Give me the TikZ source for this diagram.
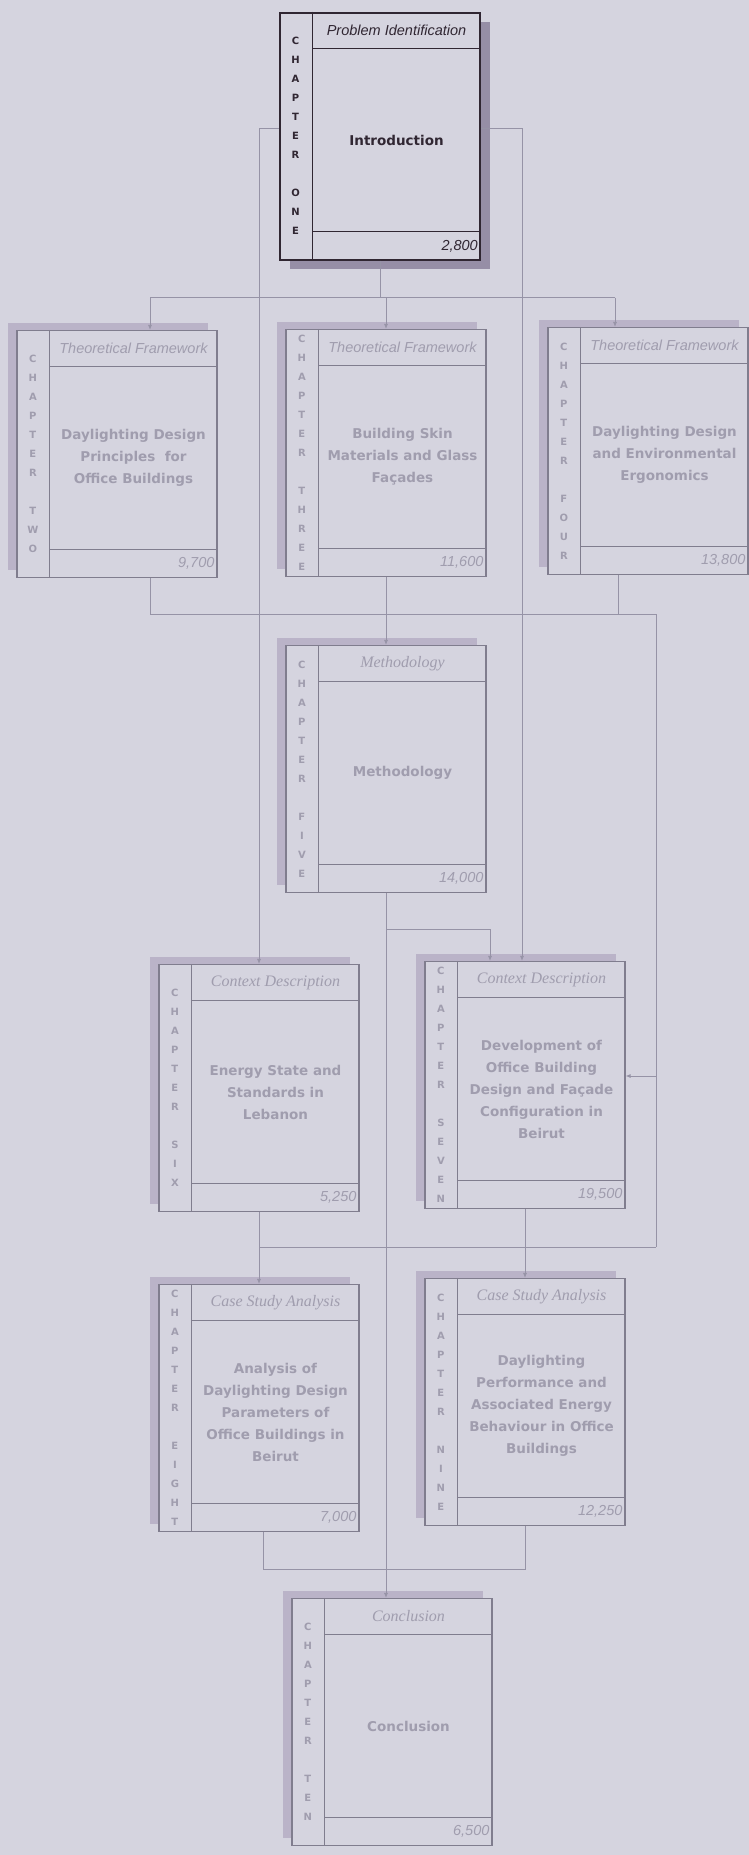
\documentclass[tikz,border=0pt]{standalone}
\usepackage{fontspec}
\setmainfont{Liberation Serif}
\setsansfont{DejaVu Sans}
\newfontfamily\headsans{Liberation Sans}
\newfontfamily\headserif{Liberation Serif}
\usetikzlibrary{arrows.meta,calc}

\definecolor{paper}{RGB}{213,212,223}
\definecolor{cshadow}{RGB}{186,179,200}
\definecolor{cshadowdark}{RGB}{150,142,166}
\definecolor{ink}{RGB}{48,38,50}
\definecolor{rule}{RGB}{128,125,142}
\definecolor{faint}{RGB}{160,157,174}
\definecolor{wire}{RGB}{150,147,166}

\newcommand{\chapspine}[1]{C\\H\\A\\P\\T\\E\\R\\[19pt]#1}

\tikzset{
  chapbox/.style={draw=rule, line width=1.2pt, fill=paper, minimum width=200pt, minimum height=247pt, inner sep=0pt},
  keybox/.style={chapbox, draw=ink, line width=2pt},
  divider/.style={draw=rule, line width=1pt},
  spinetext/.style={font=\sffamily\bfseries\fontsize{10}{19}\selectfont, align=center, text=faint, inner sep=0pt},
  titletext/.style={font=\sffamily\bfseries\fontsize{13.5}{22}\selectfont, align=center, text=faint},
  hdsans/.style={font=\headsans\itshape\fontsize{14.5}{17}\selectfont, text=faint, inner sep=0pt},
  hdserif/.style={font=\headserif\itshape\fontsize{16}{19}\selectfont, text=faint, inner sep=0pt},
  numtext/.style={font=\headsans\itshape\fontsize{14.5}{17}\selectfont, text=faint, anchor=east, inner sep=0pt},
  link/.style={draw=wire, line width=0.8pt},
  flow/.style={link, -{Latex[length=5pt,width=4pt]}},
}

% name, x, y, header style, header, title, words, spine
\newcommand{\chapbox}[8]{%
  \fill[cshadow] ($(#2,#3)+(-109,-131.5)$) rectangle ++(200,247);
  \node[chapbox] (#1) at (#2,#3) {};
  \draw[divider] ([xshift=33]#1.north west) -- ([xshift=33]#1.south west);
  \draw[divider] ([xshift=33,yshift=-37]#1.north west) -- ([yshift=-37]#1.north east);
  \draw[divider] ([xshift=33,yshift=29]#1.south west) -- ([yshift=29]#1.south east);
  \node[#4] at ($(#1.north)+(16.5,18.5)$) {#5};
  \node[titletext] at ($(#1.center)+(16.5,4)$) {#6};
  \node[numtext] at ($(#1.south east)+(-3,-14.5)$) {#7};
  \node[spinetext] at ($(#1.west)+(16.5,0)$) {\chapspine{#8}};
}

\begin{document}
\begin{tikzpicture}[x=1pt, y=-1pt]
  \fill[paper] (0,0) rectangle (749,1855);
  \useasboundingbox (0,0) rectangle (749,1855);

  % chapter one
  \fill[cshadowdark] (290,21.5) rectangle ++(200,247);
  \node[keybox] (one) at (380,136) {};
  \draw[divider, draw=ink] ([xshift=33]one.north west) -- ([xshift=33]one.south west);
  \draw[divider, draw=ink] ([xshift=33,yshift=-37]one.north west) -- ([yshift=-37]one.north east);
  \draw[divider, draw=ink] ([xshift=33,yshift=29]one.south west) -- ([yshift=29]one.south east);
  \node[hdsans, text=ink] at ($(one.north)+(16.5,18.5)$) {Problem Identification};
  \node[titletext, text=ink] at ($(one.center)+(16.5,4)$) {Introduction};
  \node[numtext, text=ink] at ($(one.south east)+(-3,-14.5)$) {2,800};
  \node[spinetext, text=ink] at ($(one.west)+(16.5,0)$) {\chapspine{O\\N\\E}};

  % other chapters
  \chapbox{two}{117}{454}{hdsans}{Theoretical Framework}{Daylighting Design\\Principles \ for\\Office Buildings}{9,700}{T\\W\\O}
  \chapbox{three}{386}{453}{hdsans}{Theoretical Framework}{Building Skin\\Materials and Glass\\Façades}{11,600}{T\\H\\R\\E\\E}
  \chapbox{four}{648}{451}{hdsans}{Theoretical Framework}{Daylighting Design\\and Environmental\\Ergonomics}{13,800}{F\\O\\U\\R}
  \chapbox{five}{386}{769}{hdserif}{Methodology}{Methodology}{14,000}{F\\I\\V\\E}
  \chapbox{six}{259}{1088}{hdserif}{Context Description}{Energy State and\\Standards in\\Lebanon}{5,250}{S\\I\\X}
  \chapbox{seven}{525}{1085}{hdserif}{Context Description}{Development of\\Office Building\\Design and Façade\\Configuration in\\Beirut}{19,500}{S\\E\\V\\E\\N}
  \chapbox{eight}{259}{1408}{hdserif}{Case Study Analysis}{Analysis of\\Daylighting Design\\Parameters of\\Office Buildings in\\Beirut}{7,000}{E\\I\\G\\H\\T}
  \chapbox{nine}{525}{1402}{hdserif}{Case Study Analysis}{Daylighting\\Performance and\\Associated Energy\\Behaviour in Office\\Buildings}{12,250}{N\\I\\N\\E}
  \chapbox{ten}{392}{1722}{hdserif}{Conclusion}{Conclusion}{6,500}{T\\E\\N}

  % buses
  \coordinate (busA) at ($(one.south)+(0,37)$);
  \coordinate (busB) at ($(three.south)+(0,37)$);
  \coordinate (busC) at ($(six.south)+(0,35)$);
  \coordinate (busD) at ($(eight.south)+(0,37)$);
  \coordinate (split) at ($(five.south)+(0,36)$);
  \coordinate (rail) at (656,0);
  \coordinate (sevenin) at ([yshift=9]seven.east);

  % introduction to chapters two, three, four
  \draw[link] (one.south) -- (busA);
  \draw[link] ([xshift=33]two.north |- busA) -- ([xshift=-33]four.north |- busA);
  \foreach \t/\s in {two/33, three/0, four/-33}
    \draw[flow] ([xshift=\s]\t.north |- busA) -- ([xshift=\s]\t.north);

  % introduction to chapters six, seven
  \draw[flow] ([yshift=8]one.west) -| (six.north);
  \draw[flow] ([yshift=8]one.east) -| ([xshift=-3]seven.north);

  % chapters two, three, four onwards
  \draw[link] ([xshift=33]two.south) |- (rail |- busB);
  \draw[link] ([xshift=-30]four.south) -- ([xshift=-30]four.south |- busB);
  \draw[flow] (three.south) -- (five.north);
  \draw[link] (rail |- busB) -- (rail |- busC);
  \draw[flow] (rail |- sevenin) -- (sevenin);

  % methodology
  \draw[flow] (five.south) -- (five.south |- ten.north);
  \draw[flow] (split) -| ([xshift=-35]seven.north);

  % context to case studies
  \draw[flow] (six.south) -- (eight.north);
  \draw[flow] (seven.south) -- (nine.north);
  \draw[link] (six.south |- busC) -- (rail |- busC);

  % case studies to conclusion
  \draw[link] ([xshift=4]eight.south) |- (nine.south |- busD) -- (nine.south);
\end{tikzpicture}
\end{document}
